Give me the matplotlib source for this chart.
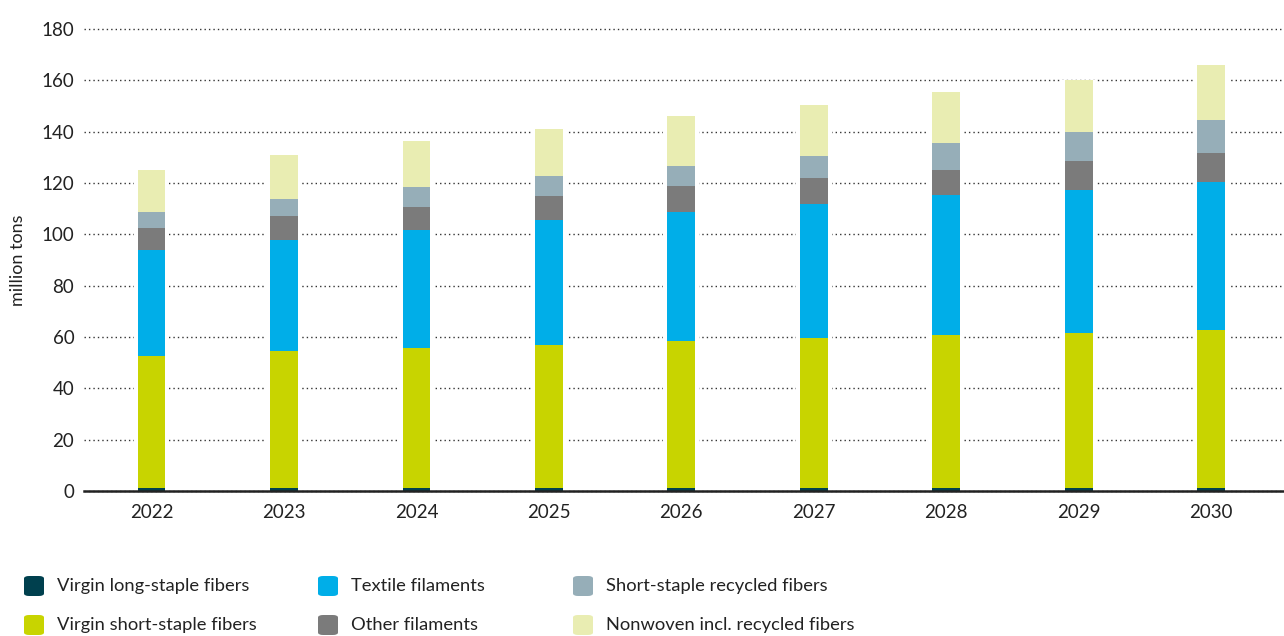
import matplotlib
matplotlib.use("Agg")
import matplotlib.pyplot as plt
from matplotlib.patches import FancyBboxPatch
import numpy as np

years = ["2022", "2023", "2024", "2025", "2026", "2027", "2028", "2029", "2030"]

# stacked segments in million tons
long_staple = [1.2, 1.2, 1.2, 1.2, 1.2, 1.2, 1.2, 1.2, 1.2]
short_staple = [51.3, 53.3, 54.4, 55.6, 57.2, 58.3, 59.5, 60.3, 61.4]
textile_fil = [41.4, 43.3, 46.0, 48.6, 50.2, 52.3, 54.5, 55.7, 57.6]
other_fil = [8.4, 9.2, 8.9, 9.4, 10.1, 10.0, 9.7, 11.2, 11.3]
recycled = [6.3, 6.6, 7.8, 7.8, 8.1, 8.9, 10.5, 11.4, 12.9]
nonwoven = [16.6, 17.4, 17.9, 18.3, 19.2, 19.8, 20.2, 20.5, 21.6]

labels = ["Virgin long-staple fibers", "Virgin short-staple fibers",
          "Textile filaments", "Other filaments",
          "Short-staple recycled fibers", "Nonwoven incl. recycled fibers"]
colors = ["#00404E", "#C8D400", "#00AEE8", "#7B7B7B", "#96AEB8", "#E9EDB2"]

plt.rcParams['font.family'] = ['Lato', 'DejaVu Sans']

fig = plt.figure(figsize=(12.84, 6.36), dpi=100)
ax = fig.add_axes([84 / 1284, 1 - 491 / 636, 1 - 84 / 1284, (491 - 29) / 636])

x = np.arange(len(years))
series = [long_staple, short_staple, textile_fil, other_fil, recycled, nonwoven]
totals = np.sum(series, axis=0)

# white halo behind bars, breaks the dotted grid like the original
ax.bar(x, totals, width=0.27, color="white", zorder=2)

bottom = np.zeros(len(years))
for vals, col in zip(series, colors):
    ax.bar(x, vals, bottom=bottom, width=0.21, color=col, zorder=3, linewidth=0)
    bottom += np.array(vals)

ax.set_ylim(0, 180)
ax.set_xlim(-0.51, 8.55)
ax.set_yticks(range(0, 181, 20))
ax.set_xticks(x)
ax.set_xticklabels(years)
ax.yaxis.grid(True, linestyle=(0, (1, 2.2)), color="#333333", linewidth=1.0, zorder=1)
for gl in ax.get_ygridlines():
    gl.set_clip_on(False)
ax.set_axisbelow(True)

for s in ["top", "right", "left"]:
    ax.spines[s].set_visible(False)
ax.spines["bottom"].set_color("#222222")
ax.spines["bottom"].set_linewidth(1.8)
ax.spines["bottom"].set_zorder(4)
ax.tick_params(axis="both", length=0, labelsize=13.5, colors="#222222")
ax.tick_params(axis="y", pad=7)
ax.tick_params(axis="x", pad=9)
ax.set_ylabel("million tons", fontsize=13, color="#222222", labelpad=11)

# legend, three columns of two rows
col_x = [24, 318, 573]
row_y = [586, 625]
for i, (lab, col) in enumerate(zip(labels, colors)):
    cx = col_x[i // 2]
    cy = row_y[i % 2]
    box = FancyBboxPatch(((cx) / 1284, 1 - (cy + 10) / 636), 20 / 1284, 20 / 636,
                         boxstyle="round,pad=0,rounding_size=0.004",
                         transform=fig.transFigure, facecolor=col, edgecolor="none")
    fig.patches.append(box)
    fig.text((cx + 33) / 1284, 1 - cy / 636, lab, fontsize=13.2, color="#222222",
             va="center", ha="left")

fig.savefig("out.png", dpi=100)
